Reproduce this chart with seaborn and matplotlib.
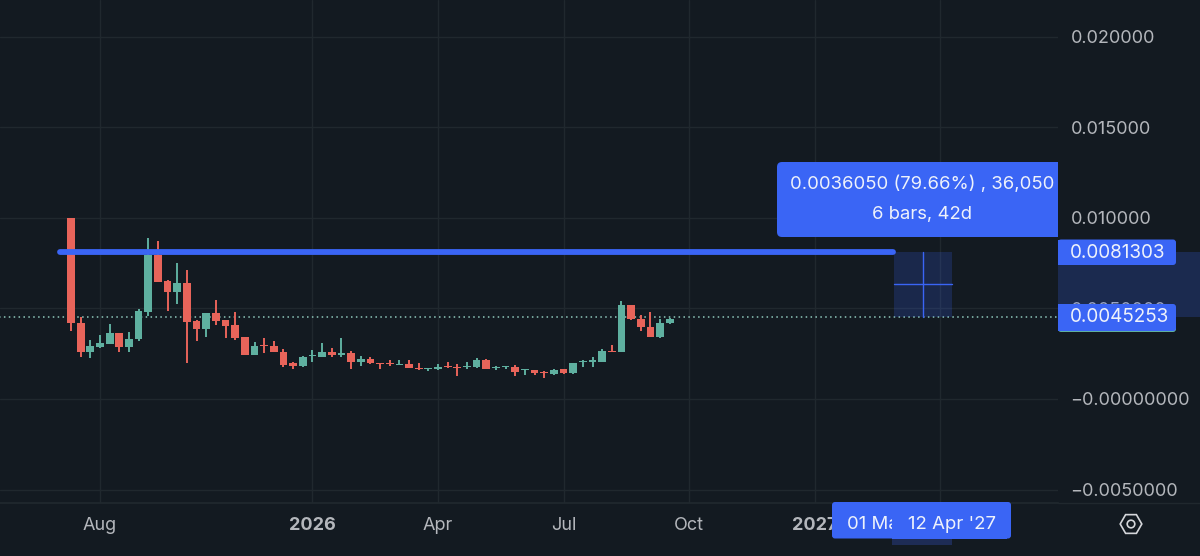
import numpy as np
import pandas as pd
import matplotlib
matplotlib.use("Agg")
import matplotlib.pyplot as plt
from matplotlib.patches import Rectangle, FancyBboxPatch, RegularPolygon, Circle
import seaborn as sns

# Weekly candles, prices in units of 1e-5
opens = [997,418,259,285,304,362,287,329,480,795,651,592,638,431,388,477,434,408,344,245,298,293,261,197,182,236,232,259,241,256,202,219,199,201,190,193,173,164,164,180,178,178,175,215,169,177,178,158,158,151,138,164,142,202,206,204,267,261,521,442,399,340,418]
closes = [418,258,293,307,362,285,333,486,795,648,592,638,427,386,477,431,405,337,245,293,291,258,190,184,234,243,258,241,252,204,223,197,191,191,195,171,164,169,178,175,173,184,217,166,175,180,147,162,142,145,160,142,199,210,215,265,261,521,442,397,342,421,442]
highs = [997,451,326,353,412,362,370,495,891,874,657,753,710,436,477,546,434,480,344,316,339,322,274,202,237,270,309,280,335,263,237,230,201,213,213,213,197,173,193,204,193,202,224,219,184,180,186,166,158,155,164,164,199,215,230,278,296,541,521,466,482,440,449]
lows = [377,230,224,280,304,261,261,322,460,648,486,523,197,320,342,408,337,326,245,245,256,258,178,166,178,204,232,234,234,164,180,195,167,184,188,169,160,156,160,171,127,167,171,164,158,164,127,134,134,118,134,138,138,175,178,204,261,261,436,375,342,337,416]

y_ticks = [0.020, 0.015, 0.010, 0.005, 0.0, -0.005]
y_labels = ["0.020000", "0.015000", "0.010000", "0.0050000", "\u22120.00000000", "\u22120.0050000"]
x_ticks = [3, 25, 38, 51, 64, 77, 90]
x_labels = ["Aug", "2026", "Apr", "Jul", "Oct", "2027", ""]
bold_labels = ["2026", "2027"]

last_price = 0.0045253
target_price = 0.0081303
measure_start, measure_end = 85.2, 91.2
line_start = -1.1
line_end = 85.1
measure_text = "0.0036050 (79.66%) , 36,050"
bars_text = "6 bars, 42d"
date_back = "01 Mar '27"
date_front = "12 Apr '27"

BG = "#131A21"
GRID = "#20282E"
RED = "#E8645A"
GREEN = "#5FB0A0"
BLUE = "#3A65F5"
SHADE = "#1E2C55"
TXT = "#B4B7BC"
WHITE = "#EEF2FB"

sns.set_theme(style="dark", rc={"axes.facecolor": BG, "figure.facecolor": BG})
plt.rcParams["font.family"] = ["Inter", "DejaVu Sans"]

df = pd.DataFrame({"idx": np.arange(len(opens)), "o": opens, "c": closes, "h": highs, "l": lows})
for k in "ochl":
    df[k] = df[k] * 1e-5
df["up"] = df["c"] >= df["o"]
df["bottom"] = df[["o", "c"]].min(axis=1)
df["body"] = (df["c"] - df["o"]).abs().clip(lower=5e-5)

fig = plt.figure(figsize=(12, 5.56), dpi=100, facecolor=BG)
ax = fig.add_axes([0, 53 / 556, 1058 / 1200, 503 / 556], zorder=1)
ax.set_facecolor(BG)

ax.hlines(last_price, -8, 103, color="#8FC9BC", lw=1.1, linestyles=(0, (1, 2.2)), zorder=2)

for up, col in [(True, GREEN), (False, RED)]:
    sub = df[df["up"] == up]
    ax.vlines(sub["idx"], sub["l"], sub["h"], color=col, lw=1.4, zorder=3)
    sns.barplot(data=sub, x="idx", y="body", bottom=sub["bottom"].values, native_scale=True,
                color=col, saturation=1, width=0.8, errorbar=None, ax=ax, zorder=4, linewidth=0)

ax.add_patch(Rectangle((measure_start, last_price), measure_end - measure_start, target_price - last_price,
                       facecolor=BLUE, alpha=0.2, edgecolor="none", zorder=2.5))
mid_x = (measure_start + measure_end) / 2
mid_y = (last_price + target_price) / 2
ax.plot([measure_start, measure_end], [mid_y, mid_y], color=BLUE, lw=1, zorder=5)
ax.plot([mid_x, mid_x], [last_price, target_price], color=BLUE, lw=1, zorder=5)
ax.plot([line_start, line_end], [target_price, target_price], color=BLUE, lw=4.2, solid_capstyle="round", zorder=6)

ax.set_xlim(-7.354, 102.2)
ax.set_ylim(-0.00574, 0.02202)
ax.set_xticks(x_ticks)
ax.set_xticklabels(x_labels)
ax.set_yticks(y_ticks)
ax.set_yticklabels(y_labels)
ax.yaxis.tick_right()
ax.set_xlabel("")
ax.set_ylabel("")
ax.grid(True, color=GRID, lw=1)
ax.set_axisbelow(True)
ax.tick_params(axis="y", length=0, pad=9, labelsize=13, labelcolor=TXT, right=False)
ax.tick_params(axis="x", length=0, pad=10, labelsize=13, labelcolor=TXT, bottom=False)
for lab in ax.get_xticklabels():
    if lab.get_text() in bold_labels:
        lab.set_fontweight("bold")
for s in ax.spines.values():
    s.set_visible(False)
ax.spines["bottom"].set_visible(True)
ax.spines["bottom"].set_color(GRID)

# Interface chrome, laid out in figure pixels
ui = fig.add_axes([0, 0, 1, 1], zorder=2)
ui.set_xlim(0, 1200)
ui.set_ylim(556, 0)
ui.axis("off")
ui.patch.set_alpha(0)
ui.plot([1058, 1200], [503, 503], color=GRID, lw=1)

def round_box(x0, y0, x1, y1, color, r=3, z=3):
    ui.add_patch(FancyBboxPatch((x0 + r, y0 + r), x1 - x0 - 2 * r, y1 - y0 - 2 * r,
                                boxstyle=f"round,pad={r},rounding_size={r}",
                                facecolor=color, edgecolor="none", zorder=z))

# price-scale shading, translucent so the tick label behind it still shows
ui.add_patch(Rectangle((1058, 252), 142, 65, facecolor=BLUE, alpha=0.22, edgecolor="none", zorder=2))
# tooltip
round_box(777, 162, 1040, 237, BLUE, r=5)
ui.add_patch(Rectangle((1000, 162), 58, 75, facecolor=BLUE, edgecolor="none", zorder=3))
ui.text(922, 184, measure_text, color=WHITE, fontsize=13.3, ha="center", va="center", zorder=5)
ui.text(922, 215, bars_text, color=WHITE, fontsize=13.3, ha="center", va="center", zorder=5)

# price tags
round_box(1058, 239.5, 1176, 265, BLUE, r=3)
ui.add_patch(Rectangle((1058, 239.5), 20, 25.5, facecolor=BLUE, edgecolor="none", zorder=3))
ui.text(1070, 252.5, f"{target_price:.7f}", color=WHITE, fontsize=13.6, ha="left", va="center", zorder=5)
round_box(1058, 306, 1176, 332, GREEN, r=3, z=2.5)
round_box(1058, 304, 1176, 331, BLUE, r=3)
ui.add_patch(Rectangle((1058, 304), 20, 27, facecolor=BLUE, edgecolor="none", zorder=3))
ui.text(1070, 317, f"{last_price:.7f}", color=WHITE, fontsize=13.6, ha="left", va="center", zorder=5)

# time tags
ui.add_patch(Rectangle((892, 530), 60, 14.5, facecolor=SHADE, edgecolor="none", zorder=2))
round_box(832, 502, 1011, 538.5, BLUE, r=3)
ui.text(847, 524.5, date_back, color=WHITE, fontsize=13.4, ha="left", va="center", zorder=4)
ui.add_patch(Rectangle((892, 502), 115, 36.5, facecolor=BLUE, edgecolor="none", zorder=4.5))
ui.text(952, 524.5, date_front, color=WHITE, fontsize=13.4, ha="center", va="center", zorder=5)

# settings icon
ui.add_patch(RegularPolygon((1131, 524), 6, radius=10.8, orientation=np.pi / 6, facecolor="none",
                            edgecolor="#D5D7DB", lw=1.2))
ui.add_patch(Circle((1131, 524), 3.8, facecolor="none", edgecolor="#D5D7DB", lw=1.2))

fig.savefig("out.png", dpi=100, facecolor=BG)
